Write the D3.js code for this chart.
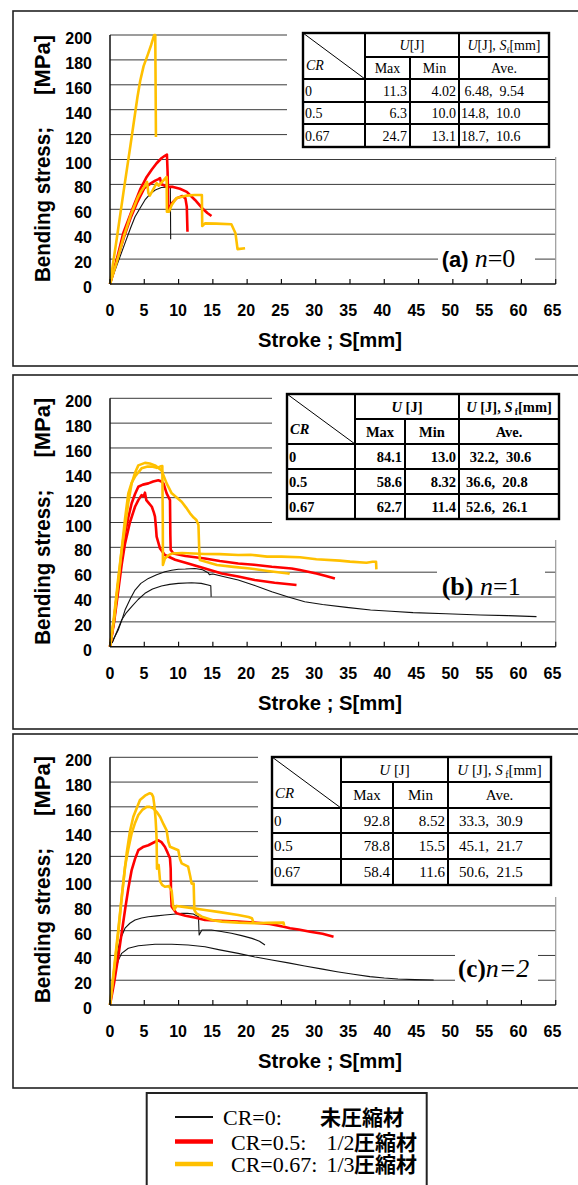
<!DOCTYPE html>
<html>
<head>
<meta charset="utf-8">
<script src="https://cdn.jsdelivr.net/npm/d3@7"></script>
<style>
  body { margin: 0; background: #fff; }
  text { white-space: pre; }
</style>
</head>
<body>
<svg id="fig" width="578" height="1185"></svg>
<script>
// ---------------- data ----------------
var strokeTicks = [0, 5, 10, 15, 20, 25, 30, 35, 40, 45, 50, 55, 60, 65];
var stressTicks = [0, 20, 40, 60, 80, 100, 120, 140, 160, 180, 200];

// (a) n=0   [stroke mm, stress MPa]
var aBlack = [[0,0],[1,15],[2.2,33],[3,45],[3.65,54],[4.4,61],[5.1,67.5],[5.8,72],[6.6,75.5],[7.5,77.5],[8.8,78],[8.85,36]];
var aRed1 = [[0,0],[1,20],[1.94,41],[3.4,62],[4.4,76],[5.35,86],[6.1,92],[6.8,97],[7.5,101],[8.0,103],[8.3,104],[8.4,90],[8.5,58],[9.0,64.8],[9.7,68.8],[10.55,70.7],[11.0,68.8],[11.2,62],[11.3,42]];
var aRed2 = [[0,0],[1,19],[2,37],[3,53],[4,66],[5,77],[6,81],[6.6,83],[7.0,84],[7.3,85],[7.5,80],[7.8,79.5],[8.3,78],[9.2,78],[10.2,76.5],[11.2,74],[12.4,67.5],[13.6,60],[14.2,57],[14.8,54.6]];
var aYellow1 = [[0,0],[1,37],[2,75],[3,112],[4,150],[4.4,163],[4.9,175],[5.5,184],[6.0,192],[6.45,200],[6.6,200],[6.65,160],[6.7,118]];
var aYellow2 = [[0,0],[1,18],[2,38],[3,55],[4.1,70],[4.6,75],[5.1,79],[5.4,82],[5.6,73],[5.8,71],[6.3,76],[6.8,81],[7.1,79],[7.6,82],[8.26,86],[8.3,58],[8.6,58],[9.0,63.5],[9.7,69],[10.5,70],[11.2,71],[12.3,71.5],[13.4,71.5],[13.45,46.6],[13.85,48.7],[15.5,48.5],[17.7,48],[18.3,40.7],[18.6,28],[19.7,28.7]];

// (b) n=1
var bBlack1 = [[0.3,3],[0.6,7],[1.2,13.4],[1.7,21],[2.19,29.5],[3.0,39],[3.65,45.6],[4.5,51],[5.6,55],[6.8,58],[8.0,60.4],[9.0,61.5],[9.96,62.3],[11,62.5],[12.4,63],[13.5,62],[14.3,59.6],[14.5,58],[15.0,58.5],[16.5,56.5],[18.7,53.7],[21,49.5],[23.6,44.3],[26,40],[28.4,36.2],[31,34],[34.5,31.7],[38,29.5],[41,28.5],[44.2,27.4],[49,26.5],[54,25.5],[58,25],[62.2,24.2]];
var bBlack2 = [[0.3,3],[1.0,12],[1.7,21.5],[2.4,27.5],[3.16,32.2],[4.1,38],[5.1,43],[6.2,46.5],[7.5,48.9],[8.7,50.2],[9.96,51],[11.9,51.5],[13.3,51],[14.3,49.7],[14.7,49],[14.75,40.3]];
var bRed1 = [[0,0],[0.6,22],[1.2,51],[1.7,72],[2.19,91],[2.67,104],[3.16,115.5],[3.65,123],[4.13,128.8],[4.8,130.5],[5.6,131.5],[6.3,133],[7.05,134],[7.5,133],[7.8,131.5],[8.26,123.5],[8.75,118],[8.8,90],[8.85,78],[9.24,75],[11,73],[13.85,71],[16,69],[18.7,67],[21,66],[23.6,64.4],[26.5,63],[27.7,61.7],[30.1,59],[31.5,57],[32.8,55]];
var bRed2 = [[0,0],[0.6,20],[1.2,45],[1.7,66],[2.19,83],[2.9,100],[3.65,112.7],[4.13,118],[4.6,122],[4.9,121],[5.1,124],[5.3,118],[5.6,116],[6.1,112.7],[6.4,108],[6.56,104.7],[6.7,96],[6.8,88.6],[7.3,79],[8.0,73.8],[9.5,70],[11.4,67],[13.5,63.5],[16.3,59],[18.7,56.5],[21.1,53.7],[24,51.5],[27.2,49.7]];
var bYellow1 = [[0,0],[0.6,25],[1.2,55],[1.7,78],[2.19,96.6],[2.67,116],[3.16,131.5],[3.65,140],[4.13,146],[5.1,148],[5.8,147.5],[6.56,146],[7.5,142],[8.26,131.5],[9.0,123.5],[10.45,116.7],[11.1,112],[11.67,107.4],[12.2,104],[12.6,102],[12.9,98],[13.0,80],[13.1,69.8],[15.6,65.8],[18,64.3],[20.4,63],[23,61],[26,59],[26.2,58.5]];
var bYellow2 = [[0,0],[0.6,22],[1.2,52],[1.7,78],[2.19,103],[2.67,123.5],[3.16,132],[3.65,137],[4.6,143.6],[5.5,145],[6.1,145],[6.8,144],[7.3,145],[7.63,145.5],[7.7,100],[7.72,65.8],[8.0,71],[8.5,73.5],[9.0,75],[10.5,75.5],[13.85,74.6],[16,74.5],[18.7,73.8],[20.5,74],[22.9,72.5],[25,72.5],[27.7,72],[30.1,70.4],[33.5,69.3],[35,68.5],[37.4,67.6],[38.3,68.4],[38.8,68.4],[38.85,62.3]];

// (c) n=2
var cBlack1 = [[0,0],[0.4,15],[0.73,31],[1.1,43],[1.46,52.5],[2.19,62],[2.9,66],[3.65,68.6],[4.6,70.3],[5.6,71.3],[6.8,72],[8.0,72.7],[9.2,73.3],[10.45,74],[11.3,74],[12.15,73.5],[12.9,71.3],[13.0,56.5],[13.2,58.5],[13.4,60.5],[14.8,60.5],[16,59.5],[17.7,57.9],[19.2,56],[20.7,53.8],[21.8,51.5],[22.6,48.4]];
var cBlack2 = [[0,0],[0.4,12],[0.73,25.6],[1.2,36],[1.7,41.7],[2.67,45.8],[4.13,47.9],[6.56,49],[9,49],[11.4,48.4],[13.85,47],[16,44.5],[18.7,41.7],[21,39],[23.6,36.3],[26,34],[28.4,31.5],[31,29],[33.1,26.9],[35.5,24.8],[37.9,22.9],[40,21.8],[42,21],[44.5,20.5],[47.2,20.2]];
var cRed = [[0,0],[0.6,18],[1.2,39],[1.7,58],[2.19,76.7],[2.67,94],[3.16,109],[3.65,118],[4.13,125],[4.8,127.5],[5.6,129],[6.3,131],[7.05,133],[7.5,131.5],[8.0,127.8],[8.4,123],[8.75,118.4],[8.85,110],[8.9,90],[9.0,79.4],[9.7,74],[11,72],[12.5,70.5],[13.85,68.6],[16,68],[18.7,67.3],[21,66.5],[23.3,65.5],[25.5,63],[26.25,62],[27.5,61],[29.2,59.2],[31,57.5],[32.6,55.2]];
var cYellow1 = [[0,0],[0.6,30],[1.2,60.5],[1.8,92],[2.43,122.5],[2.9,140],[3.4,152],[4.37,165.5],[5.1,169],[5.8,171],[6.08,170.4],[6.3,168],[6.5,160],[6.66,149],[6.75,140],[6.8,133],[6.85,110],[7.1,113],[7.3,100],[7.6,97],[8.0,95.5],[8.6,96],[9.0,92],[9.2,80],[9.4,77],[9.7,80],[11,79],[13.85,76.7],[16,75],[18.7,72.7],[20.2,71],[20.7,70],[20.9,67]];
var cYellow2 = [[0,0],[0.6,28],[1.2,58],[1.7,86],[2.19,111.7],[2.67,126],[3.16,138.6],[3.65,147],[4.13,153.4],[4.7,157.5],[5.35,160],[5.8,160],[6.3,158.8],[6.8,156],[7.3,152],[7.8,146],[8.26,141],[8.5,132],[8.75,127.8],[9.96,125],[10.2,118],[10.45,114.4],[11.4,111.7],[11.7,104],[11.9,98],[12.2,98],[12.3,76.7],[12.6,74],[13.4,71.3],[15,68.5],[16.3,67.3],[18.7,66.5],[21.1,66],[23,66.3],[25.3,66.5],[25.4,64]];

// tables: CR, U max, U min, ave (U, Sf)
var tableRowsA = [["0", "11.3", "4.02", " 6.48,  9.54"], ["0.5", "6.3", "10.0", "14.8,  10.0"], ["0.67", "24.7", "13.1", "18.7,  10.6"]];
var tableRowsB = [["0", "84.1", "13.0", " 32.2,  30.6"], ["0.5", "58.6", "8.32", "36.6,  20.8"], ["0.67", "62.7", "11.4", "52.6,  26.1"]];
var tableRowsC = [["0", "92.8", "8.52", "33.3,  30.9"], ["0.5", "78.8", "15.5", "45.1,  21.7"], ["0.67", "58.4", "11.6", "50.6,  21.5"]];
var colHeads = ["Max", "Min", "Ave."];

var legendLabels = ["CR=0:", "CR=0.5:", "CR=0.67:"];
var legendRatios = ["", "1/2", "1/3"];
var legendNames = ["未圧縮材", "圧縮材", "圧縮材"];
var seriesColors = ["#111111", "#ff0000", "#ffc000"];

// ---------------- drawing ----------------
var SANS = "'Liberation Sans', Arial, sans-serif";
var SERIF = "'Liberation Serif', 'Times New Roman', serif";
var svg = d3.select("#fig");
var x = d3.scaleLinear().domain([0, 65]).range([110, 555.7]);

var panels = [
  { top: 11, bottom: 366, y0: 284, yTop: 35,
    black: [aBlack], red: [aRed1, aRed2], yellow: [aYellow1, aYellow2],
    table: { rows: tableRowsA, cols: [303, 365, 410, 459, 549], lines: [33, 57, 79, 102, 124, 147],
             bold: false, size: 14, uSpace: "", avePad: 2 },
    mask: { x: 287, bottom: 157 },
    label: { x: 441.7, y: 267, mask: [438, 248, 97, 23], head: "(a) ", headFont: SANS, headSize: 22, rest: "=0", size: 26 } },
  { top: 375, bottom: 729, y0: 646.7, yTop: 398.3,
    black: [bBlack1, bBlack2], red: [bRed1, bRed2], yellow: [bYellow1, bYellow2],
    table: { rows: tableRowsB, cols: [287, 355, 405, 459, 559], lines: [394, 419, 444, 469, 494, 519],
             bold: true, size: 14.5, uSpace: " ", avePad: 7 },
    mask: { x: 272, bottom: 540 },
    label: { x: 441.7, y: 595, mask: [437, 556, 108, 34], head: "(b) ", headFont: SERIF, headSize: 26, rest: "=1", size: 26 } },
  { top: 734, bottom: 1088, y0: 1005, yTop: 757.3,
    black: [cBlack1, cBlack2], red: [cRed], yellow: [cYellow1, cYellow2],
    table: { rows: tableRowsC, cols: [272, 341, 393, 448, 551], lines: [757, 782, 808, 833, 859, 885],
             bold: false, size: 15, uSpace: " ", avePad: 11 },
    mask: { x: 258, bottom: 897 },
    label: { x: 458, y: 977, mask: [455, 944, 83, 42], head: "(c)", headFont: SERIF, headSize: 25, rest: "=2", size: 26, italicRest: true } }
];

panels.forEach(drawPanel);

function drawPanel(p) {
  var g = svg.append("g");
  var y = d3.scaleLinear().domain([0, 200]).range([p.y0, p.yTop]);
  var line = d3.line().x(function (d) { return x(d[0]); }).y(function (d) { return y(d[1]); });

  // outer frame (right side runs off the page)
  g.append("rect")
    .attr("x", 13).attr("y", p.top)
    .attr("width", 620).attr("height", p.bottom - p.top)
    .attr("fill", "none").attr("stroke", "#222").attr("stroke-width", 1.6);

  // gridlines
  g.append("g").selectAll("line")
    .data(stressTicks.filter(function (d) { return d > 0; }))
    .join("line")
    .attr("x1", x(0)).attr("x2", x(65))
    .attr("y1", function (d) { return y(d); }).attr("y2", function (d) { return y(d); })
    .attr("stroke", "#3a3a3a").attr("stroke-width", 1);

  // plot-area right edge
  g.append("line")
    .attr("x1", x(65)).attr("x2", x(65))
    .attr("y1", p.mask.bottom).attr("y2", p.y0)
    .attr("stroke", "#999").attr("stroke-width", 1.2);

  // curves
  var lines = g.append("g").attr("fill", "none").attr("stroke-linejoin", "round");
  p.black.forEach(function (s) {
    lines.append("path").attr("d", line(s)).attr("stroke", seriesColors[0]).attr("stroke-width", 1.1);
  });
  p.red.forEach(function (s) {
    lines.append("path").attr("d", line(s)).attr("stroke", seriesColors[1]).attr("stroke-width", 2.6);
  });
  p.yellow.forEach(function (s) {
    lines.append("path").attr("d", line(s)).attr("stroke", seriesColors[2]).attr("stroke-width", 2.6);
  });

  // white box behind the table
  g.append("rect")
    .attr("x", p.mask.x).attr("y", p.top + 2)
    .attr("width", 578 - p.mask.x).attr("height", p.mask.bottom - p.top - 2)
    .attr("fill", "#fff");

  // axes
  g.append("line").attr("x1", x(0)).attr("x2", x(65)).attr("y1", p.y0).attr("y2", p.y0)
    .attr("stroke", "#111").attr("stroke-width", 1.5);
  g.append("line").attr("x1", x(0)).attr("x2", x(0)).attr("y1", p.y0).attr("y2", p.yTop)
    .attr("stroke", "#111").attr("stroke-width", 1.5);

  g.append("g").selectAll("line")
    .data(strokeTicks)
    .join("line")
    .attr("x1", function (d) { return x(d); }).attr("x2", function (d) { return x(d); })
    .attr("y1", p.y0).attr("y2", p.y0 - 5)
    .attr("stroke", "#111").attr("stroke-width", 1.2);

  g.append("g").selectAll("text")
    .data(strokeTicks)
    .join("text")
    .attr("x", function (d) { return x(d) - d * 0.05; })
    .attr("y", p.y0 + 32)
    .attr("text-anchor", "middle")
    .style("font", "bold 16px " + SANS)
    .text(function (d) { return d; });

  g.append("g").selectAll("text")
    .data(stressTicks)
    .join("text")
    .attr("x", 92)
    .attr("y", function (d) { return y(d) + 9; })
    .attr("text-anchor", "end")
    .style("font", "bold 16px " + SANS)
    .text(function (d) { return d; });

  // axis titles
  g.append("text")
    .attr("transform", "translate(50," + (p.y0 - 2) + ") rotate(-90)")
    .attr("textLength", 155).attr("lengthAdjust", "spacingAndGlyphs")
    .style("font", "bold 22px " + SANS)
    .text("Bending stress;");
  g.append("text")
    .attr("transform", "translate(50," + (p.y0 - 249) + ") rotate(-90)")
    .attr("text-anchor", "end")
    .style("font", "bold 22px " + SANS)
    .text("[MPa]");
  g.append("text")
    .attr("x", 258).attr("y", p.y0 + 63)
    .attr("textLength", 144).attr("lengthAdjust", "spacingAndGlyphs")
    .style("font", "bold 21px " + SANS)
    .text("Stroke ; S[mm]");

  drawTable(g, p.table);
  drawLabel(g, p.label);
}

function drawTable(g, t) {
  var c = t.cols, r = t.lines;
  var weight = t.bold ? "bold " : "";
  var font = weight + t.size + "px " + SERIF;
  var tg = g.append("g");

  tg.append("rect").attr("x", c[0]).attr("y", r[0])
    .attr("width", c[4] - c[0]).attr("height", r[5] - r[0])
    .attr("fill", "#fff").attr("stroke", "#000").attr("stroke-width", 2.4);

  var segs = [
    [c[1], r[0], c[1], r[5]],
    [c[3], r[0], c[3], r[5]],
    [c[2], r[1], c[2], r[5]],
    [c[1], r[1], c[4], r[1]],
    [c[0], r[2], c[4], r[2]],
    [c[0], r[3], c[4], r[3]],
    [c[0], r[4], c[4], r[4]]
  ];
  tg.selectAll("line.grid").data(segs).join("line")
    .attr("x1", function (d) { return d[0]; }).attr("y1", function (d) { return d[1]; })
    .attr("x2", function (d) { return d[2]; }).attr("y2", function (d) { return d[3]; })
    .attr("stroke", "#000").attr("stroke-width", 2);
  // diagonal in the CR corner cell
  tg.append("line").attr("x1", c[0]).attr("y1", r[0]).attr("x2", c[1]).attr("y2", r[2])
    .attr("stroke", "#000").attr("stroke-width", 1);

  function mid(a, b) { return (a + b) / 2; }

  tg.append("text").attr("x", c[0] + 3).attr("y", r[0] + (r[2] - r[0]) * 0.7 + 5)
    .style("font", "italic " + font).text("CR");

  var h1 = tg.append("text").attr("x", mid(c[1], c[3])).attr("y", mid(r[0], r[1]) + 5)
    .attr("text-anchor", "middle").style("font", font);
  h1.append("tspan").style("font-style", "italic").text("U");
  h1.append("tspan").text(t.uSpace + "[J]");

  var h2 = tg.append("text").attr("x", mid(c[3], c[4])).attr("y", mid(r[0], r[1]) + 5)
    .attr("text-anchor", "middle").style("font", font);
  h2.append("tspan").style("font-style", "italic").text("U");
  h2.append("tspan").text(t.uSpace + "[J], ");
  h2.append("tspan").style("font-style", "italic").text("S");
  h2.append("tspan").attr("dy", 3).style("font-size", (t.size * 0.65) + "px").text(t.uSpace + "f");
  h2.append("tspan").attr("dy", -3).text("[mm]");

  colHeads.forEach(function (h, i) {
    tg.append("text").attr("x", mid(c[i + 1], c[i + 2])).attr("y", mid(r[1], r[2]) + 5)
      .attr("text-anchor", "middle").style("font", font).text(h);
  });

  t.rows.forEach(function (row, i) {
    var by = mid(r[i + 2], r[i + 3]) + 5;
    tg.append("text").attr("x", c[0] + 2).attr("y", by).style("font", font).text(row[0]);
    tg.append("text").attr("x", c[2] - 3).attr("y", by).attr("text-anchor", "end").style("font", font).text(row[1]);
    tg.append("text").attr("x", c[3] - 3).attr("y", by).attr("text-anchor", "end").style("font", font).text(row[2]);
    tg.append("text").attr("x", c[3] + t.avePad).attr("y", by).style("font", font).text(row[3]);
  });
}

function drawLabel(g, L) {
  g.append("rect").attr("x", L.mask[0]).attr("y", L.mask[1])
    .attr("width", L.mask[2]).attr("height", L.mask[3]).attr("fill", "#fff");
  var t = g.append("text").attr("x", L.x).attr("y", L.y);
  t.append("tspan").style("font", "bold " + L.headSize + "px " + L.headFont).text(L.head);
  t.append("tspan").style("font", "italic " + L.size + "px " + SERIF).text("n");
  t.append("tspan").style("font", (L.italicRest ? "italic " : "") + L.size + "px " + SERIF).text(L.rest);
}

// ---------------- legend ----------------
var leg = svg.append("g");
leg.append("rect").attr("x", 146.7).attr("y", 1093).attr("width", 280).attr("height", 120)
  .attr("fill", "none").attr("stroke", "#222").attr("stroke-width", 2);
var legRows = [1117, 1141.5, 1164];
var legWidths = [2, 4.5, 4.5];
var cjkFont = "bold 21px 'Noto Sans CJK JP', sans-serif";
legendLabels.forEach(function (lab, i) {
  leg.append("line").attr("x1", 175).attr("x2", 213).attr("y1", legRows[i]).attr("y2", legRows[i])
    .attr("stroke", seriesColors[i]).attr("stroke-width", legWidths[i]);
});
// all legend entries in one multi-line text block
var legText = leg.append("text").style("font", "22px " + SERIF);
legendLabels.forEach(function (lab, i) {
  var by = legRows[i] + 8;
  legText.append("tspan").attr("x", i === 0 ? 223 : 231).attr("y", by).text(lab);
  if (legendRatios[i]) {
    legText.append("tspan").attr("x", 326.5).attr("y", by).text(legendRatios[i]);
  }
  legText.append("tspan").attr("x", i === 0 ? 320 : 354).attr("y", by)
    .style("font", cjkFont).text(legendNames[i]);
});
</script>
</body>
</html>
